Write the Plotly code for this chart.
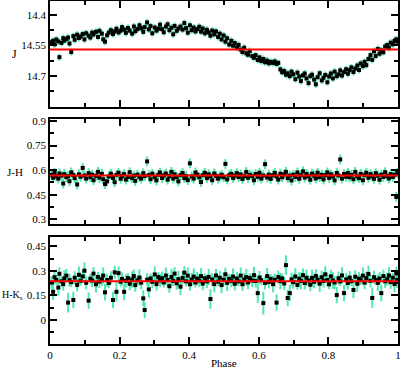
import plotly.graph_objects as go

# ---------------- data ----------------
PHASE = [
    0.004, 0.009, 0.013, 0.018, 0.024, 0.027, 0.033, 0.038, 0.041, 0.047,
    0.052, 0.056, 0.061, 0.067, 0.071, 0.078, 0.083, 0.088, 0.094, 0.099,
    0.104, 0.111, 0.116, 0.121, 0.125, 0.132, 0.138, 0.142, 0.149, 0.153,
    0.158, 0.164, 0.169, 0.175, 0.181, 0.186, 0.191, 0.197, 0.203, 0.207,
    0.213, 0.218, 0.224, 0.229, 0.236, 0.241, 0.245, 0.251, 0.257, 0.262,
    0.268, 0.272, 0.279, 0.284, 0.289, 0.294, 0.301, 0.306, 0.311, 0.316,
    0.322, 0.327, 0.333, 0.338, 0.343, 0.349, 0.354, 0.358, 0.364, 0.369,
    0.375, 0.381, 0.386, 0.391, 0.396, 0.402, 0.407, 0.413, 0.418, 0.423,
    0.429, 0.434, 0.439, 0.445, 0.451, 0.456, 0.461, 0.466, 0.472, 0.477,
    0.483, 0.488, 0.493, 0.499, 0.504, 0.509, 0.515, 0.521, 0.526, 0.531,
    0.537, 0.542, 0.548, 0.553, 0.558, 0.564, 0.569, 0.574, 0.581, 0.586,
    0.591, 0.597, 0.602, 0.607, 0.613, 0.618, 0.624, 0.629, 0.634, 0.641,
    0.646, 0.651, 0.656, 0.662, 0.667, 0.673, 0.678, 0.683, 0.689, 0.694,
    0.699, 0.705, 0.711, 0.716, 0.721, 0.727, 0.732, 0.737, 0.743, 0.748,
    0.753, 0.759, 0.764, 0.769, 0.775, 0.781, 0.786, 0.791, 0.797, 0.802,
    0.807, 0.813, 0.818, 0.824, 0.829, 0.834, 0.839, 0.845, 0.851, 0.856,
    0.861, 0.866, 0.872, 0.877, 0.883, 0.888, 0.893, 0.899, 0.904, 0.909,
    0.915, 0.921, 0.926, 0.931, 0.936, 0.942, 0.947, 0.952, 0.958, 0.963,
    0.969, 0.974, 0.979, 0.985, 0.990, 0.995, 0.998,
]

J_MAG = [
    14.535, 14.528, 14.545, 14.522, 14.531, 14.608, 14.538, 14.515, 14.527, 14.519,
    14.512, 14.541, 14.583, 14.505, 14.523, 14.498, 14.514, 14.507, 14.495, 14.521,
    14.491, 14.503, 14.512, 14.488, 14.497, 14.484, 14.509, 14.479, 14.493, 14.521,
    14.532, 14.501, 14.488, 14.476, 14.495, 14.482, 14.469, 14.487, 14.478, 14.461,
    14.473, 14.489, 14.465, 14.478, 14.493, 14.458, 14.481, 14.471, 14.452, 14.467,
    14.484, 14.461, 14.438, 14.472, 14.456, 14.491, 14.463, 14.478, 14.469, 14.449,
    14.471, 14.486, 14.458, 14.447, 14.476, 14.464, 14.496, 14.455, 14.479, 14.468,
    14.458, 14.473, 14.441, 14.466, 14.488, 14.452, 14.476, 14.463, 14.482, 14.471,
    14.459, 14.483, 14.468, 14.491, 14.474, 14.487, 14.503, 14.478, 14.496, 14.482,
    14.509, 14.493, 14.521, 14.502, 14.532, 14.515, 14.546, 14.528, 14.552, 14.539,
    14.561, 14.548, 14.571, 14.583, 14.562, 14.589, 14.596, 14.578, 14.603, 14.611,
    14.598, 14.622, 14.609, 14.627, 14.617, 14.633, 14.625, 14.638, 14.631, 14.636,
    14.629, 14.641, 14.636, 14.668, 14.682, 14.676, 14.694, 14.687, 14.701, 14.679,
    14.692, 14.716, 14.684, 14.703, 14.725, 14.697, 14.688, 14.712, 14.735, 14.701,
    14.694, 14.718, 14.741, 14.706, 14.687, 14.722, 14.709, 14.695, 14.731, 14.703,
    14.688, 14.712, 14.679, 14.701, 14.692, 14.673, 14.698, 14.681, 14.667, 14.689,
    14.672, 14.658, 14.681, 14.664, 14.649, 14.671, 14.639, 14.652, 14.631, 14.647,
    14.617, 14.598, 14.621, 14.579, 14.602, 14.568, 14.591, 14.575, 14.584, 14.556,
    14.549, 14.562, 14.537, 14.545, 14.528, 14.521, 14.532,
]

J_H = [
    0.571, 0.553, 0.584, 0.562, 0.548, 0.579, 0.566, 0.518, 0.575, 0.557,
    0.563, 0.532, 0.586, 0.569, 0.551, 0.512, 0.574, 0.559, 0.613, 0.567,
    0.548, 0.581, 0.556, 0.572, 0.538, 0.565, 0.589, 0.553, 0.577, 0.544,
    0.515, 0.531, 0.561, 0.578, 0.552, 0.526, 0.571, 0.584, 0.547, 0.563,
    0.575, 0.542, 0.558, 0.587, 0.551, 0.566, 0.534, 0.572, 0.559, 0.548,
    0.581, 0.563, 0.653, 0.569, 0.544, 0.578, 0.556, 0.537, 0.571, 0.585,
    0.552, 0.567, 0.579, 0.541, 0.563, 0.589, 0.548, 0.574, 0.558, 0.531,
    0.569, 0.582, 0.551, 0.564, 0.539, 0.641, 0.561, 0.548, 0.585, 0.572,
    0.556, 0.527, 0.569, 0.583, 0.551, 0.574, 0.562, 0.538, 0.579, 0.565,
    0.548, 0.561, 0.571, 0.556, 0.638, 0.543, 0.569, 0.577, 0.552, 0.566,
    0.581, 0.557, 0.573, 0.546, 0.562, 0.589, 0.553, 0.571, 0.564, 0.538,
    0.576, 0.559, 0.584, 0.548, 0.567, 0.636, 0.555, 0.572, 0.546, 0.569,
    0.583, 0.561, 0.542, 0.578, 0.556, 0.574, 0.589, 0.551, 0.566, 0.537,
    0.572, 0.558, 0.585, 0.547, 0.569, 0.592, 0.554, 0.576, 0.563, 0.541,
    0.578, 0.566, 0.549, 0.584, 0.557, 0.571, 0.543, 0.568, 0.586, 0.552,
    0.574, 0.561, 0.537, 0.582, 0.567, 0.665, 0.548, 0.576, 0.559, 0.583,
    0.556, 0.571, 0.544, 0.589, 0.562, 0.551, 0.577, 0.538, 0.569, 0.584,
    0.553, 0.575, 0.561, 0.547, 0.581, 0.566, 0.541, 0.572, 0.558, 0.587,
    0.563, 0.549, 0.576, 0.558, 0.571, 0.436, 0.582,
]

H_KS = [
    0.228, 0.172, 0.261, 0.245, 0.198, 0.282, 0.236, 0.219, 0.254, 0.271,
    0.106, 0.243, 0.231, 0.122, 0.258, 0.214, 0.276, 0.239, 0.266, 0.301,
    0.227, 0.118, 0.252, 0.241, 0.283, 0.218, 0.263, 0.235, 0.249, 0.271,
    0.169, 0.244, 0.226, 0.258, 0.122, 0.291, 0.172, 0.286, 0.234, 0.251,
    0.172, 0.239, 0.256, 0.221, 0.247, 0.268, 0.213, 0.242, 0.259, 0.228,
    0.132, 0.061, 0.246, 0.187, 0.254, 0.233, 0.278, 0.219, 0.262, 0.241,
    0.255, 0.229, 0.271, 0.244, 0.206, 0.262, 0.238, 0.283, 0.224, 0.249,
    0.203, 0.257, 0.289, 0.236, 0.271, 0.218, 0.248, 0.265, 0.229, 0.253,
    0.241, 0.268, 0.222, 0.255, 0.236, 0.263, 0.128, 0.247, 0.219, 0.272,
    0.234, 0.258, 0.213, 0.246, 0.279, 0.227, 0.251, 0.239, 0.265, 0.221,
    0.253, 0.236, 0.271, 0.218, 0.247, 0.262, 0.229, 0.256, 0.241, 0.274,
    0.238, 0.164, 0.259, 0.243, 0.103, 0.226, 0.268, 0.233, 0.251, 0.219,
    0.245, 0.106, 0.262, 0.237, 0.254, 0.223, 0.335, 0.134, 0.164, 0.248,
    0.231, 0.266, 0.214, 0.252, 0.239, 0.274, 0.226, 0.258, 0.241, 0.215,
    0.257, 0.233, 0.269, 0.246, 0.222, 0.261, 0.238, 0.279, 0.244, 0.218,
    0.266, 0.241, 0.229, 0.152, 0.255, 0.236, 0.272, 0.164, 0.248, 0.226,
    0.259, 0.237, 0.183, 0.264, 0.221, 0.252, 0.243, 0.271, 0.228, 0.256,
    0.281, 0.239, 0.134, 0.261, 0.244, 0.227, 0.253, 0.164, 0.268, 0.236,
    0.249, 0.272, 0.231, 0.258, 0.219, 0.284, 0.245,
]

HK_ERR = [
    0.04, 0.05, 0.04, 0.03, 0.05, 0.04, 0.03, 0.04, 0.05, 0.04,
    0.06, 0.04, 0.03, 0.05, 0.04, 0.04, 0.05, 0.03, 0.04, 0.05,
    0.04, 0.05, 0.03, 0.04, 0.04, 0.05, 0.03, 0.04, 0.04, 0.05,
    0.05, 0.04, 0.03, 0.04, 0.05, 0.04, 0.06, 0.04, 0.03, 0.04,
    0.05, 0.04, 0.03, 0.04, 0.05, 0.04, 0.04, 0.03, 0.05, 0.04,
    0.05, 0.05, 0.04, 0.05, 0.03, 0.04, 0.05, 0.04, 0.03, 0.04,
    0.04, 0.03, 0.05, 0.04, 0.04, 0.05, 0.03, 0.04, 0.04, 0.05,
    0.05, 0.04, 0.04, 0.03, 0.05, 0.04, 0.04, 0.05, 0.03, 0.04,
    0.04, 0.05, 0.04, 0.03, 0.04, 0.05, 0.06, 0.04, 0.05, 0.04,
    0.03, 0.04, 0.05, 0.04, 0.04, 0.05, 0.03, 0.04, 0.05, 0.04,
    0.04, 0.03, 0.05, 0.04, 0.04, 0.05, 0.04, 0.03, 0.04, 0.05,
    0.04, 0.06, 0.04, 0.03, 0.07, 0.04, 0.05, 0.04, 0.03, 0.05,
    0.04, 0.05, 0.04, 0.05, 0.03, 0.04, 0.06, 0.05, 0.05, 0.04,
    0.04, 0.05, 0.03, 0.04, 0.05, 0.04, 0.04, 0.05, 0.03, 0.04,
    0.05, 0.04, 0.04, 0.03, 0.05, 0.04, 0.04, 0.05, 0.04, 0.03,
    0.04, 0.05, 0.04, 0.05, 0.04, 0.03, 0.05, 0.05, 0.04, 0.04,
    0.04, 0.03, 0.05, 0.04, 0.05, 0.04, 0.03, 0.05, 0.04, 0.04,
    0.05, 0.04, 0.06, 0.04, 0.03, 0.05, 0.04, 0.05, 0.04, 0.04,
    0.04, 0.05, 0.04, 0.03, 0.05, 0.04, 0.05,
]

J_ERR = 0.017
JH_ERR = 0.030

J_MEAN = 14.571
JH_MEAN = 0.567
HK_MEAN = 0.237

X_TICKS = [0, 0.2, 0.4, 0.6, 0.8, 1]
X_TICK_TEXT = ["0", "0.2", "0.4", "0.6", "0.8", "1"]
J_TICKS = [14.4, 14.55, 14.7]
J_TICK_TEXT = ["14.4", "14.55", "14.7"]
JH_TICKS = [0.3, 0.45, 0.6, 0.75, 0.9]
JH_TICK_TEXT = ["0.3", "0.45", "0.6", "0.75", "0.9"]
HK_TICKS = [0, 0.15, 0.3, 0.45]
HK_TICK_TEXT = ["0", "0.15", "0.3", "0.45"]

# ---------------- styling ----------------
FONT = "Liberation Serif"
ERR_COLOR = "#4fe8ae"
LINE_W = 1.5

fig = go.Figure()

panels = [
    ("x", "y", J_MAG, [J_ERR] * len(PHASE), J_MEAN),
    ("x2", "y2", J_H, [JH_ERR] * len(PHASE), JH_MEAN),
    ("x3", "y3", H_KS, HK_ERR, HK_MEAN),
]

for xa, ya, vals, errs, mean in panels:
    fig.add_trace(go.Scatter(
        x=PHASE, y=vals, xaxis=xa, yaxis=ya, mode="markers",
        marker=dict(symbol="square", size=4, color="black"),
        error_y=dict(type="data", array=errs, visible=True,
                     color=ERR_COLOR, thickness=2, width=0),
        showlegend=False, hoverinfo="skip",
    ))
    fig.add_trace(go.Scatter(
        x=[0, 1], y=[mean, mean], xaxis=xa, yaxis=ya, mode="lines",
        line=dict(color="#ff0000", width=2),
        showlegend=False, hoverinfo="skip",
    ))


def xaxis_cfg(anchor, labels):
    return dict(
        anchor=anchor, domain=[0, 1], range=[0, 1],
        tickvals=X_TICKS, ticktext=X_TICK_TEXT, showticklabels=labels,
        ticks="inside", ticklen=7, tickwidth=LINE_W, tickcolor="black",
        minor=dict(dtick=0.1, ticks="inside", ticklen=4, tickwidth=LINE_W,
                   tickcolor="black", showgrid=False),
        showline=True, linecolor="black", linewidth=LINE_W, mirror="ticks",
        showgrid=False, zeroline=False, automargin=False,
        ticklabeloverflow="allow",
        tickfont=dict(family=FONT, size=11, color="black"),
    )


def yaxis_cfg(anchor, dom, rng, tv, tt, minor_tick0):
    return dict(
        anchor=anchor, domain=dom, range=rng,
        tickvals=tv, ticktext=tt,
        ticks="inside", ticklen=7, tickwidth=LINE_W, tickcolor="black",
        minor=dict(tick0=minor_tick0, dtick=0.075, ticks="inside", ticklen=4,
                   tickwidth=LINE_W, tickcolor="black", showgrid=False),
        showline=True, linecolor="black", linewidth=LINE_W, mirror="ticks",
        showgrid=False, zeroline=False, automargin=False,
        ticklabeloverflow="allow",
        tickfont=dict(family=FONT, size=11, color="black"),
    )


fig.update_layout(
    width=400, height=368,
    margin=dict(l=50, r=2, t=1, b=24, autoexpand=False),
    paper_bgcolor="white", plot_bgcolor="white",
    font=dict(family=FONT, size=11, color="black"),
    xaxis=xaxis_cfg("y", False),
    xaxis2=xaxis_cfg("y2", False),
    xaxis3=xaxis_cfg("y3", True),
    yaxis=yaxis_cfg("x", [0.691, 1.0], [14.852, 14.333], J_TICKS, J_TICK_TEXT, 14.4),
    yaxis2=yaxis_cfg("x2", [0.350, 0.656], [0.271, 0.912], JH_TICKS, JH_TICK_TEXT, 0.3),
    yaxis3=yaxis_cfg("x3", [0.0, 0.312], [-0.147, 0.507], HK_TICKS, HK_TICK_TEXT, 0.0),
    annotations=[
        dict(text="J", xref="paper", yref="paper", x=-0.1006, y=0.845,
             xanchor="center", yanchor="middle", showarrow=False,
             font=dict(family=FONT, size=12, color="black")),
        dict(text="J-H", xref="paper", yref="paper", x=-0.1006, y=0.501,
             xanchor="center", yanchor="middle", showarrow=False,
             font=dict(family=FONT, size=11, color="black")),
        dict(text="H-K<sub>s</sub>", xref="paper", yref="paper", x=-0.1437, y=0.14,
             xanchor="left", yanchor="middle", showarrow=False,
             font=dict(family=FONT, size=10, color="black")),
        dict(text="Phase", xref="paper", yref="paper", x=0.5, y=-0.055,
             xanchor="center", yanchor="middle", showarrow=False,
             font=dict(family=FONT, size=11, color="black")),
    ],
)

fig.write_html(
    "out.html",
    config={"displayModeBar": False},
    post_script="document.body.style.margin='0';document.body.style.overflow='hidden';",
)
